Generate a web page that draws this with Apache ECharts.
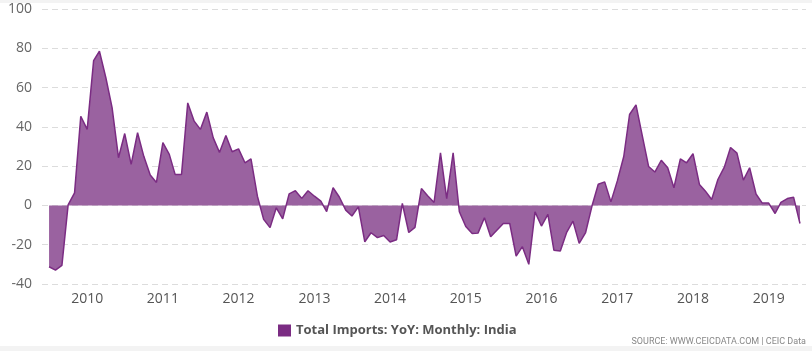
<!DOCTYPE html>
<html>
<head>
<meta charset="utf-8">
<title>Total Imports: YoY: Monthly: India</title>
<script src="https://cdn.jsdelivr.net/npm/echarts@6/dist/echarts.min.js"></script>
<style>
  html, body { margin: 0; padding: 0; background: #fff; }
  #chart { width: 812px; height: 351px; }
</style>
</head>
<body>
<div id="chart"></div>
<script>
// monthly values, Jul 2009 .. Jun 2019 (% YoY)
const startYear = 2009;
const startMonth = 7;
const values = [
  -31.2, -32.9, -30.5, 0.3, 6.4, 45.4, 38.7, 73.7, 78.5, 65.0, 49.8, 24.3,
  36.6, 20.9, 37.0, 25.0, 15.5, 11.7, 32.0, 26.0, 15.8, 15.8, 52.2, 42.9,
  38.7, 47.5, 34.4, 27.0, 35.6, 27.3, 28.8, 21.7, 23.7, 4.7, -7.1, -11.3,
  -1.2, -6.8, 5.9, 7.5, 3.6, 7.5, 4.7, 2.2, -3.1, 9.0, 4.3, -2.4,
  -5.4, -0.7, -18.5, -13.9, -16.4, -15.3, -18.6, -17.5, 1.0, -13.8, -11.2, 8.6,
  4.9, 1.5, 26.8, 3.5, 26.8, -3.2, -10.7, -14.3, -14.1, -6.3, -15.9, -12.5,
  -9.2, -9.2, -25.8, -21.0, -30.0, -3.3, -10.5, -4.6, -22.8, -23.2, -13.9, -8.0,
  -19.3, -13.8, -0.2, 10.8, 12.0, 1.8, 12.5, 24.9, 46.3, 51.2, 35.7, 19.8,
  17.0, 23.0, 19.2, 9.0, 23.7, 21.7, 26.3, 10.7, 7.4, 3.0, 13.2, 19.5,
  29.5, 26.6, 12.9, 19.2, 5.8, 1.2, 1.2, -4.1, 1.6, 3.5, 4.2, -9.2
];

// month dates for the x axis
const months = [];
for (let i = 0; i < values.length; i++) {
  const m = startMonth - 1 + i;
  const y = startYear + Math.floor(m / 12);
  const mm = (m % 12) + 1;
  months.push(y + '-' + (mm < 10 ? '0' : '') + mm + '-01');
}

const seriesName = 'Total Imports: YoY: Monthly: India';
const sourceText = 'SOURCE: WWW.CEICDATA.COM | CEIC Data';

const myChart = echarts.init(document.getElementById('chart'));

myChart.setOption({
  animation: false,
  textStyle: { fontFamily: 'Open Sans, sans-serif' },
  grid: { left: 42, right: 6, top: 9, bottom: 67, containLabel: false },
  legend: {
    data: [seriesName],
    left: 273,
    top: 319,
    icon: 'rect',
    itemWidth: 13,
    itemHeight: 12,
    itemGap: 4,
    textStyle: {
      color: '#555',
      fontSize: 13,
      fontWeight: 'bold',
      fontFamily: 'Liberation Sans Narrow, Open Sans, sans-serif'
    }
  },
  xAxis: {
    type: 'time',
    min: '2009-05-28',
    max: '2019-06-30',
    minInterval: 365 * 24 * 3600 * 1000,
    maxInterval: 366 * 24 * 3600 * 1000,
    axisLine: { show: false },
    axisTick: { show: false },
    splitLine: { show: false },
    axisLabel: {
      color: '#555',
      fontSize: 14,
      margin: 8,
      formatter: function (v) { return String(new Date(v).getFullYear()); }
    }
  },
  yAxis: {
    type: 'value',
    min: -40,
    max: 100,
    interval: 20,
    axisLine: { show: false },
    axisTick: { show: false },
    axisLabel: { color: '#666', fontSize: 14, margin: 10 },
    splitLine: { lineStyle: { color: '#dcdcdc', type: [6, 4], width: 1 } }
  },
  series: [
    {
      name: seriesName,
      type: 'line',
      data: months.map((d, i) => [d, values[i]]),
      symbol: 'none',
      itemStyle: { color: '#7b2c83' },
      lineStyle: { color: '#7b2c83', width: 1.5 },
      areaStyle: { color: '#9a62a0', opacity: 1 }
    }
  ],
  graphic: [
    { type: 'rect', left: 0, top: 0, shape: { width: 812, height: 3 }, style: { fill: '#f3f3f3' }, silent: true },
    { type: 'rect', left: 0, top: 346, shape: { width: 812, height: 5 }, style: { fill: '#f3f3f3' }, silent: true },
    {
      type: 'text',
      right: 6,
      top: 337,
      style: {
        text: sourceText,
        fill: '#888',
        fontSize: 9,
        fontFamily: 'Liberation Sans Narrow, Roboto, sans-serif'
      }
    }
  ]
});
</script>
</body>
</html>
